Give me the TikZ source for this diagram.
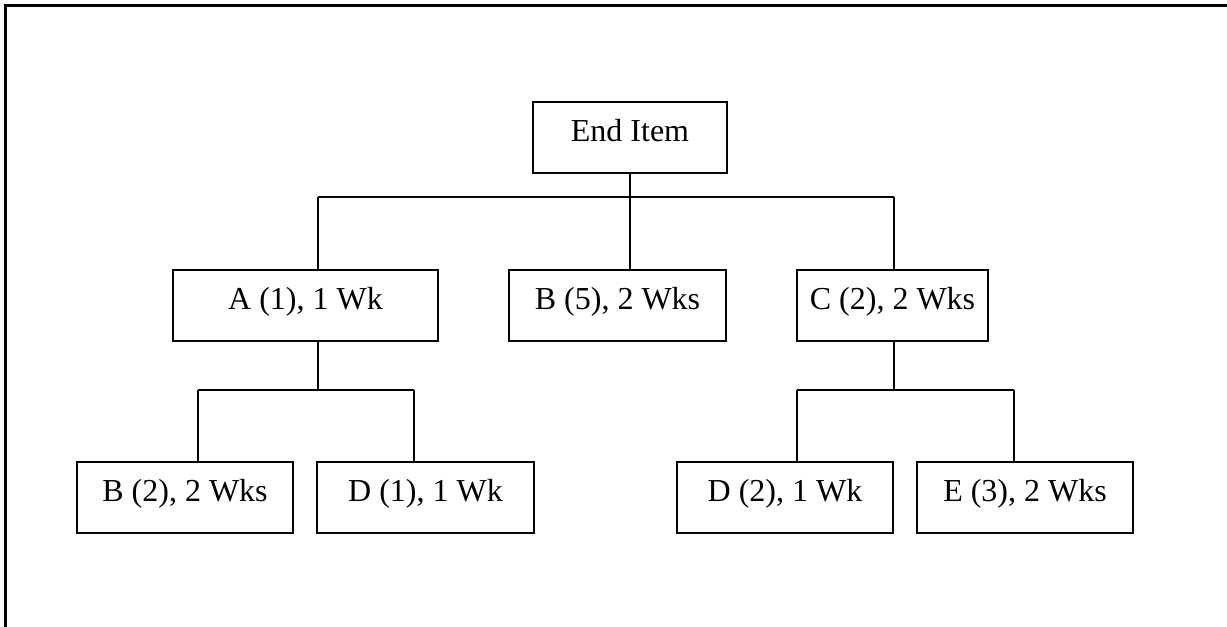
\documentclass[tikz,border=0pt]{standalone}
\usepackage{fontspec}
\setmainfont{Liberation Serif}
\usepackage{tikz}

\begin{document}
\begin{tikzpicture}[x=0.75pt,y=0.75pt,yscale=-1,xscale=1,
    wbox/.style={draw, line width=1.1pt, minimum height=53.25pt, inner sep=0pt,
      text height=0.85em, text depth=0.19em, font=\fontsize{24}{28}\selectfont},
    tline/.style={line width=1.1pt}]
    \useasboundingbox (0,0) rectangle (1227,627);
    
    %Frame (top and left edge only)
    \draw [line width=1.6pt]  (5.5,627) -- (5.5,5.5) -- (1227,5.5) ;
    
    % Text Node
    \node [wbox, minimum width=145.5pt] (end) at (630,137.5) {End Item};
    % Text Node
    \node [wbox, minimum width=198.75pt] (A) at (305.5,305.5) {A (1), 1 Wk};
    % Text Node
    \node [wbox, minimum width=162.75pt] (B5) at (617.5,305.5) {B (5), 2 Wks};
    % Text Node
    \node [wbox, minimum width=143.25pt] (C) at (892.5,305.5) {C (2), 2 Wks};
    % Text Node
    \node [wbox, minimum width=162pt] (B2) at (185,497.5) {B (2), 2 Wks};
    % Text Node
    \node [wbox, minimum width=162.75pt] (D1) at (425.5,497.5) {D (1), 1 Wk};
    % Text Node
    \node [wbox, minimum width=162pt] (D2) at (785,497.5) {D (2), 1 Wk};
    % Text Node
    \node [wbox, minimum width=162pt] (E3) at (1025,497.5) {E (3), 2 Wks};
    
    %Junctions
    \coordinate (sA) at (318,197);
    \coordinate (sB) at (630,197);
    \coordinate (sC) at (894,197);
    \coordinate (aL) at (198,390);
    \coordinate (aR) at (414,390);
    \coordinate (cL) at (797,390);
    \coordinate (cR) at (1014,390);
    
    %Straight Lines: end item to first level
    \draw [tline]  (end.south) -- (sB) ;
    \draw [tline]  (sA) -- (sC) ;
    \draw [tline]  (sA) -- (sA |- A.north) ;
    \draw [tline]  (sB) -- (sB |- B5.north) ;
    \draw [tline]  (sC) -- (sC |- C.north) ;
    
    %Straight Lines: A to its parts
    \draw [tline]  (sA |- A.south) -- (sA |- aL) ;
    \draw [tline]  (aL) -- (aR) ;
    \draw [tline]  (aL) -- (aL |- B2.north) ;
    \draw [tline]  (aR) -- (aR |- D1.north) ;
    
    %Straight Lines: C to its parts
    \draw [tline]  (sC |- C.south) -- (sC |- cL) ;
    \draw [tline]  (cL) -- (cR) ;
    \draw [tline]  (cL) -- (cL |- D2.north) ;
    \draw [tline]  (cR) -- (cR |- E3.north) ;
    
\end{tikzpicture}
\end{document}
